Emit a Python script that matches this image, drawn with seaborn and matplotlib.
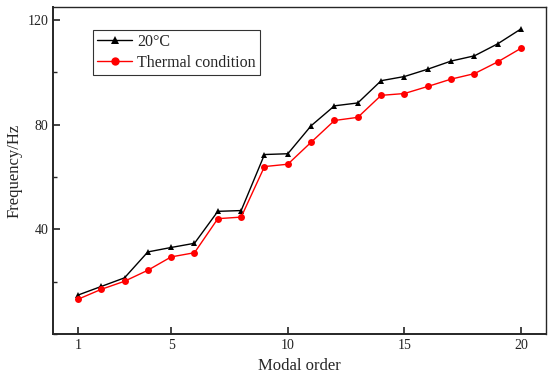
import numpy as np
import pandas as pd
import matplotlib
matplotlib.use("Agg")
import matplotlib.pyplot as plt
import seaborn as sns
from matplotlib.ticker import MultipleLocator

# data
modal_order = list(range(1, 21))
freq_20c = [14.9, 18.2, 21.5, 31.4, 33.1, 34.7, 46.9, 47.2, 68.6, 68.9,
            79.6, 87.2, 88.3, 96.8, 98.4, 101.2, 104.3, 106.3, 110.9, 116.6]
freq_thermal = [13.3, 17.1, 20.2, 24.4, 29.5, 31.1, 44.1, 44.7, 64.0, 64.9,
                73.3, 81.6, 82.8, 91.2, 91.9, 94.6, 97.4, 99.5, 104.0, 109.2]
series_names = ["20°C", "Thermal condition"]
x_ticks = [1, 5, 10, 15, 20]

df = pd.DataFrame({
    "order": modal_order * 2,
    "freq": freq_20c + freq_thermal,
    "case": [series_names[0]] * 20 + [series_names[1]] * 20,
})

sns.set_style("ticks")
plt.rcParams["font.family"] = ["Liberation Serif", "DejaVu Serif"]

fig, ax = plt.subplots(figsize=(5.5, 3.81), dpi=100)
fig.subplots_adjust(left=0.097, right=0.992, top=0.982, bottom=0.123)

sns.lineplot(data=df, x="order", y="freq", hue="case", style="case",
             palette=["black", "#ff0000"], markers=["^", "o"], dashes=False,
             markersize=5, markeredgewidth=0, linewidth=1.0, ax=ax)

ax.set_xlim(-0.05, 21.05)
ax.set_ylim(0, 125)
ax.set_xticks(x_ticks)
ax.yaxis.set_major_locator(MultipleLocator(40))
ax.yaxis.set_minor_locator(MultipleLocator(20))
ax.set_yticks([40, 80, 120])
ax.tick_params(axis="both", which="major", direction="in", length=5, width=1.2,
               labelsize=10, colors="#222222")
ax.tick_params(axis="y", which="minor", direction="in", length=3, width=1.0)
ax.tick_params(axis="x", which="minor", bottom=False)

for side in ["left", "bottom"]:
    ax.spines[side].set_linewidth(1.4)
for side in ["top", "right"]:
    ax.spines[side].set_linewidth(1.0)
    ax.spines[side].set_visible(True)

ax.set_xlabel("Modal order", fontsize=12)
ax.set_ylabel("Frequency/Hz", fontsize=12)

leg = ax.legend(loc="upper left", bbox_to_anchor=(0.081, 0.93), fontsize=11.5,
                frameon=True, fancybox=False, edgecolor="black",
                handlelength=2.2, handletextpad=0.3, borderpad=0.25,
                labelspacing=0.3, borderaxespad=0, markerscale=1.2)
leg.get_frame().set_linewidth(0.8)
leg.set_title(None)

plt.savefig("out.png", dpi=100)
